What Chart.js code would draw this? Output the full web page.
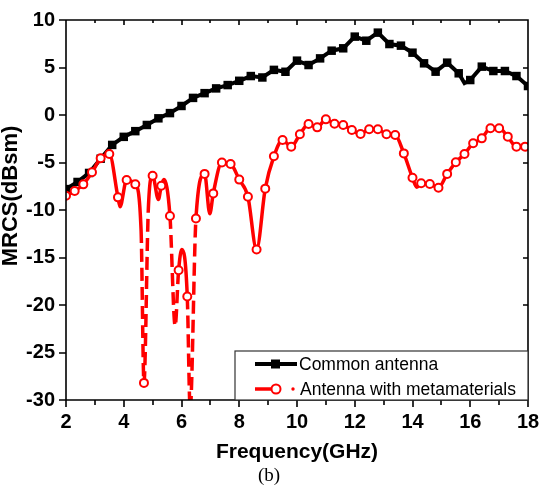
<!DOCTYPE html>
<html><head><meta charset="utf-8">
<script src="https://cdn.jsdelivr.net/npm/chart.js@4.4.1/dist/chart.umd.min.js"></script>
<style>html,body{margin:0;padding:0;background:#fff;}canvas{display:block;}</style>
</head><body>
<canvas id="c" width="541" height="487"></canvas>
<script>
// ---- data ----
const seriesNames = ['Common antenna', 'Antenna with metamaterials'];
const commonFreq = [2.0,2.4,2.8,3.2,3.6,4.0,4.4,4.8,5.2,5.6,6.0,6.4,6.8,7.2,7.6,8.0,8.4,8.8,9.2,9.6,10.0,10.4,10.8,11.2,11.6,12.0,12.4,12.8,13.2,13.6,14.0,14.4,14.8,15.2,15.6,15.8,16.0,16.4,16.8,17.2,17.6,18.0];
const commonMRCS = [-7.8,-7.05,-6.1,-4.6,-3.15,-2.3,-1.7,-1.05,-0.35,0.2,0.95,1.8,2.3,2.8,3.15,3.6,4.1,3.95,4.75,4.55,5.72,5.26,5.96,6.77,7.02,8.25,7.82,8.67,7.47,7.3,6.56,5.44,4.56,5.51,4.39,3.35,3.68,5.09,4.63,4.63,4.1,3.05];
const metaFreq = [2.0,2.3,2.6,2.9,3.2,3.5,3.8,3.87,4.1,4.4,4.6,4.7,4.85,5.0,5.2,5.3,5.39,5.6,5.78,5.9,6.01,6.2,6.3,6.5,6.8,6.98,7.1,7.4,7.7,8.0,8.3,8.6,8.9,9.2,9.5,9.8,10.1,10.4,10.7,11.0,11.3,11.6,11.9,12.2,12.5,12.8,13.1,13.4,13.7,14.0,14.15,14.3,14.6,14.9,15.2,15.5,15.8,16.1,16.4,16.7,17.0,17.3,17.6,17.9];
const metaMRCS = [-8.5,-8.0,-7.3,-6.03,-4.56,-4.1,-8.67,-9.65,-6.84,-7.3,-12.1,-28.2,-10.0,-6.4,-8.9,-7.44,-6.8,-10.63,-22.2,-16.35,-14.15,-19.1,-31,-10.9,-6.2,-10.4,-8.25,-5.0,-5.15,-6.8,-8.6,-14.15,-7.75,-4.35,-2.63,-3.33,-2.03,-0.95,-1.3,-0.46,-0.92,-1.05,-1.58,-2.0,-1.5,-1.5,-2.03,-2.1,-4.04,-6.6,-7.6,-7.19,-7.26,-7.65,-6.2,-4.98,-4.1,-2.98,-2.46,-1.4,-1.4,-2.28,-3.33,-3.33];
const commonMarkerStep = 0.4;   // a square every 0.4 GHz
const metaMarkerStep = 0.3;     // a circle every 0.3 GHz
const xTickLabels = [2,4,6,8,10,12,14,16,18];
const yTickLabels = [-30,-25,-20,-15,-10,-5,0,5,10];
const xTitle = 'Frequency(GHz)';
const yTitle = 'MRCS(dBsm)';
const caption = '(b)';

const SANS = "'Liberation Sans', Arial, sans-serif";
const SERIF = "'Liberation Serif', 'Times New Roman', serif";

function onGrid(x, start, step) {
  const k = (x - start) / step;
  return Math.abs(k - Math.round(k)) < 0.02;
}
const pts = (xs, ys) => xs.map((x, i) => ({x, y: ys[i]}));

const framePlugin = {
  id: 'frame',
  afterDatasetsDraw(chart) {
    const {ctx, chartArea: a, scales: {x, y}} = chart;
    ctx.save();
    ctx.strokeStyle = '#000';
    ctx.lineWidth = 1.6;
    ctx.beginPath();
    ctx.rect(a.left, a.top, a.right - a.left, a.bottom - a.top);
    for (let f = x.min; f <= x.max + 1e-9; f += 1) {
      const px = Math.round(x.getPixelForValue(f)) ;
      const major = xTickLabels.includes(f);
      ctx.moveTo(px, a.bottom); ctx.lineTo(px, a.bottom + (major ? 7 : 5));
      ctx.moveTo(px, a.top); ctx.lineTo(px, a.top + (major ? 5 : 3));
    }
    yTickLabels.forEach(v => {
      const py = Math.round(y.getPixelForValue(v));
      ctx.moveTo(a.left, py); ctx.lineTo(a.left - 7, py);
      ctx.moveTo(a.right, py); ctx.lineTo(a.right - 5, py);
    });
    ctx.stroke();

    // legend
    const L = {l: 235, t: 351, r: a.right, b: a.bottom};
    ctx.fillStyle = '#fff';
    ctx.fillRect(L.l, L.t, L.r - L.l, L.b - L.t);
    ctx.strokeStyle = '#333'; ctx.lineWidth = 1.2;
    ctx.strokeRect(L.l, L.t, L.r - L.l, L.b - L.t);
    const ds = chart.data.datasets;
    const common = ds.find(d => d.label === seriesNames[0]);
    const meta = ds.find(d => d.label === seriesNames[1]);
    // row 1
    let ry = 364;
    ctx.strokeStyle = common.borderColor; ctx.lineWidth = 4;
    ctx.beginPath(); ctx.moveTo(255, ry); ctx.lineTo(297, ry); ctx.stroke();
    ctx.fillStyle = common.borderColor; ctx.fillRect(271, ry - 4.5, 9, 9);
    ctx.fillStyle = '#000'; ctx.font = '17.5px ' + SANS;
    ctx.textAlign = 'left'; ctx.textBaseline = 'middle';
    ctx.fillText(common.label, 299, ry + 1);
    // row 2
    ry = 389;
    ctx.strokeStyle = meta.borderColor; ctx.lineWidth = 3.5;
    ctx.beginPath(); ctx.moveTo(255, ry); ctx.lineTo(272, ry); ctx.stroke();
    ctx.beginPath(); ctx.arc(276, ry, 4.5, 0, Math.PI * 2);
    ctx.fillStyle = '#fff'; ctx.fill(); ctx.lineWidth = 2; ctx.stroke();
    ctx.beginPath(); ctx.arc(293, ry, 1.7, 0, Math.PI * 2); ctx.fillStyle = meta.borderColor; ctx.fill();
    ctx.fillStyle = '#000';
    ctx.fillText(meta.label, 300, ry + 1);

    // y title
    ctx.save();
    ctx.translate(11, 196);
    ctx.rotate(-Math.PI / 2);
    ctx.font = 'bold 22px ' + SANS;
    ctx.textAlign = 'center'; ctx.textBaseline = 'middle';
    ctx.fillStyle = '#000';
    ctx.fillText(yTitle, 0, 0);
    ctx.restore();

    // caption
    ctx.font = '19px ' + SERIF;
    ctx.textAlign = 'center'; ctx.textBaseline = 'middle';
    ctx.fillStyle = '#000';
    ctx.fillText(caption, 269, 476);
    ctx.restore();
  }
};

new Chart(document.getElementById('c'), {
  type: 'line',
  data: {
    datasets: [
      {
        label: seriesNames[1],
        data: pts(metaFreq, metaMRCS),
        borderColor: '#ff0000',
        backgroundColor: '#ffffff',
        borderWidth: 3.5,
        cubicInterpolationMode: 'monotone',
        pointStyle: 'circle',
        pointRadius: c => onGrid(c.raw.x, metaFreq[0], metaMarkerStep) ? 4 : 0,
        pointBorderWidth: 2,
        pointBorderColor: '#ff0000',
        pointBackgroundColor: '#ffffff',
        segment: {
          borderDash: c => {
            const s = Math.abs((c.p1.parsed.y - c.p0.parsed.y) / (c.p1.parsed.x - c.p0.parsed.x));
            return s > 35 ? [13, 6] : undefined;
          }
        },
        clip: 0,
        order: 0
      },
      {
        label: seriesNames[0],
        data: pts(commonFreq, commonMRCS),
        borderColor: '#000000',
        backgroundColor: '#000000',
        borderWidth: 4,
        tension: 0,
        pointStyle: 'rect',
        pointRadius: c => onGrid(c.raw.x, commonFreq[0], commonMarkerStep) ? 6 : 0,
        pointBorderWidth: 0,
        pointBackgroundColor: '#000000',
        clip: 0,
        order: 1
      }
    ]
  },
  options: {
    responsive: false,
    animation: false,
    devicePixelRatio: 1,
    layout: {padding: {top: 20, right: 13, bottom: 24, left: 0}},
    plugins: {legend: {display: false}, tooltip: {enabled: false}, title: {display: false}},
    scales: {
      x: {
        type: 'linear', min: 2, max: 18,
        grid: {display: false, drawTicks: false},
        border: {display: false},
        ticks: {
          stepSize: 2, autoSkip: false, maxRotation: 0, padding: 10,
          color: '#000', font: {family: SANS, size: 20, weight: 'bold'},
          callback: v => xTickLabels.includes(v) ? String(v) : ''
        },
        title: {display: true, text: xTitle, color: '#000', padding: 0,
                font: {family: SANS, size: 21, weight: 'bold', lineHeight: 1}},
        afterFit: s => { s.height = 63; s.paddingLeft = 0; s.paddingRight = 0; }
      },
      y: {
        type: 'linear', min: -30, max: 10,
        grid: {display: false, drawTicks: false},
        border: {display: false},
        ticks: {
          stepSize: 5, autoSkip: false, padding: 11,
          color: '#000', font: {family: SANS, size: 20, weight: 'bold'},
          callback: v => yTickLabels.includes(v) ? String(v) : ''
        },
        afterFit: s => { s.width = 66; s.paddingTop = 0; s.paddingBottom = 0; }
      }
    }
  },
  plugins: [framePlugin]
});
</script>
</body></html>
